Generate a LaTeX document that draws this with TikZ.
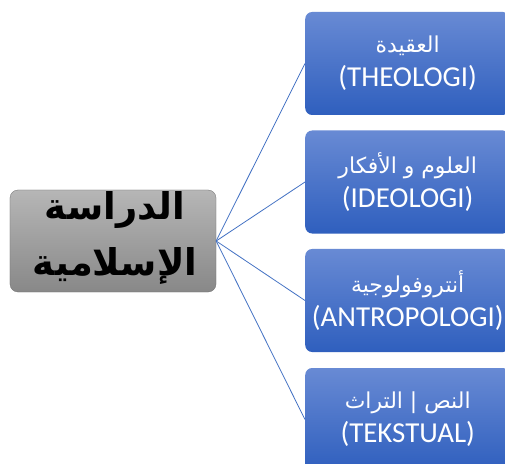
\documentclass[tikz,border=0pt]{standalone}
\usepackage{fontspec}
\setmainfont{Carlito}
\newfontfamily\arabicfont[Script=Arabic]{DejaVu Sans}
\TeXXeTstate=1
\definecolor{bluetop}{RGB}{104,138,212}
\definecolor{bluebot}{RGB}{47,95,190}
\definecolor{graytop}{RGB}{182,182,182}
\definecolor{graybot}{RGB}{136,136,136}
\definecolor{linkblue}{RGB}{68,114,196}
\newcommand\arline[1]{{\arabicfont\fontsize{22}{34}\selectfont\beginR #1\endR}}
\tikzset{
  rightbox/.style={rounded corners=7bp, top color=bluetop, bottom color=bluebot,
    draw=none, minimum width=205bp, minimum height=103bp, anchor=west,
    text=white, align=center, inner sep=0pt,
    font=\fontsize{29}{34}\selectfont},
  centerbox/.style={rounded corners=8bp, top color=graytop, bottom color=graybot,
    draw=graybot!80!black, line width=0.3pt, minimum width=206bp, minimum height=102bp,
    text=black, align=center, inner sep=0pt,
    font=\arabicfont\bfseries\fontsize{37}{56}\selectfont},
  link/.style={draw=linkblue, line width=0.8pt}
}
\begin{document}
\begin{tikzpicture}[x=1bp,y=-1bp]
\useasboundingbox (0,0) rectangle (505,464);
\clip (0,0) rectangle (505,464);
\fill[white] (0,0) rectangle (505,464);
\node[centerbox] (c) at (113,241) {};
\node[text=black, align=center, inner sep=0pt, font=\arabicfont\bfseries\fontsize{37}{56}\selectfont] (ct) at (115,238) {\beginR الدراسة\endR\\\beginR الإسلامية\endR};
\node[rightbox] (b1) at (305,63.5) {\arline{العقيدة}\\(THEOLOGI)};
\node[rightbox] (b2) at (305,182) {\arline{العلوم و الأفكار}\\(IDEOLOGI)};
\node[rightbox] (b3) at (305,300.5) {\arline{أنتروفولوجية}\\(ANTROPOLOGI)};
\node[rightbox] (b4) at (305,419.5) {\arline{النص | التراث}\\(TEKSTUAL)};
\foreach \b in {b1,b2,b3,b4} \draw[link] (c.east) -- (\b.west);
\end{tikzpicture}
\end{document}
